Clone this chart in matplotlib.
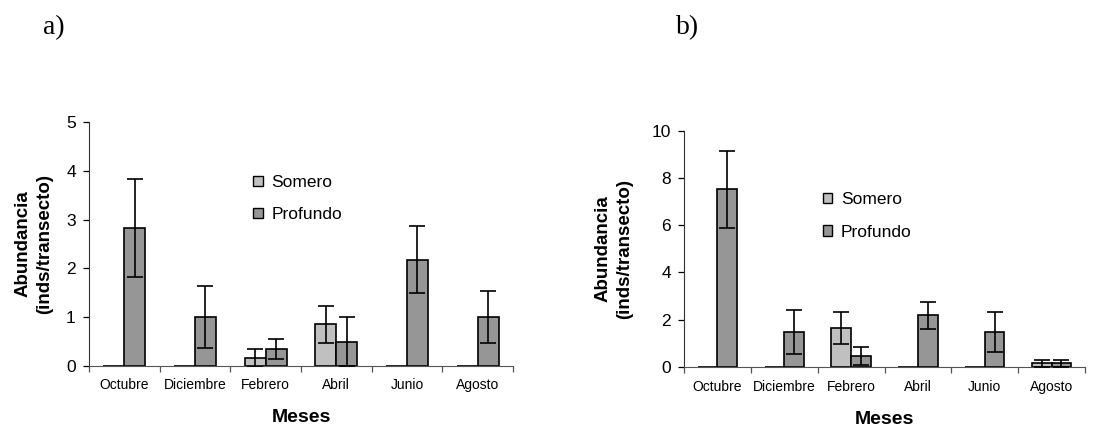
"""Abundancia por mes, somero vs profundo (paneles a y b)"""

import matplotlib
matplotlib.use("Agg")
import matplotlib.pyplot as plt
import numpy as np
from matplotlib.patches import Patch

meses = ["Octubre", "Diciembre", "Febrero", "Abril", "Junio", "Agosto"]

# panel a
somero_a = [0, 0, 0.16, 0.85, 0, 0]
somero_a_err = [0, 0, 0.19, 0.38, 0, 0]
profundo_a = [2.83, 1.0, 0.35, 0.5, 2.18, 1.0]
profundo_a_err = [1.0, 0.64, 0.2, 0.5, 0.68, 0.53]

# panel b
somero_b = [0, 0, 1.65, 0, 0, 0.16]
somero_b_err = [0, 0, 0.68, 0, 0, 0.15]
profundo_b = [7.52, 1.48, 0.47, 2.18, 1.48, 0.16]
profundo_b_err = [1.63, 0.94, 0.38, 0.57, 0.85, 0.15]

plt.rcParams["font.family"] = ["Liberation Sans", "DejaVu Sans"]

COLOR_SOMERO = "#c0c0c0"
COLOR_PROFUNDO = "#969696"
BAR_W = 0.295


def draw_panel(ax, somero, somero_err, profundo, profundo_err, ymax, ystep):
    """Dibuja las barras agrupadas con sus barras de error"""
    x = np.arange(len(meses)) + 0.5
    series = [(x - BAR_W / 2, somero, somero_err, COLOR_SOMERO),
              (x + BAR_W / 2, profundo, profundo_err, COLOR_PROFUNDO)]
    for pos, vals, err, color in series:
        vals = np.array(vals)
        err = np.array(err)
        ax.bar(pos, vals, width=BAR_W, color=color, edgecolor="black",
               linewidth=1.2, zorder=2)
        mask = err > 0
        ax.errorbar(pos[mask], vals[mask], yerr=err[mask], fmt="none",
                    ecolor="black", elinewidth=1.2, capsize=6, capthick=1.2,
                    zorder=3)

    ax.set_xlim(0, len(meses))
    ax.set_ylim(0, ymax)
    ax.set_yticks(np.arange(0, ymax + 0.01, ystep))
    ax.set_xticks(np.arange(len(meses) + 1))
    ax.set_xticklabels([])
    ax.set_xticks(x, minor=True)
    ax.set_xticklabels(meses, minor=True, fontsize=10)
    ax.tick_params(axis="x", which="major", direction="out", length=4,
                   width=0.9, color="#555555")
    ax.tick_params(axis="x", which="minor", length=0, pad=9)
    ax.tick_params(axis="y", direction="out", length=4.5, width=0.9,
                   labelsize=12.5, pad=5)
    ax.spines["top"].set_visible(False)
    ax.spines["right"].set_visible(False)
    ax.spines["left"].set_color("#333333")
    ax.spines["bottom"].set_color("#555555")

    ax.set_ylabel("Abundancia\n(inds/transecto)", fontsize=13.5,
                  fontweight="bold", va="center", linespacing=1.3)
    ax.set_xlabel("Meses", fontsize=14, fontweight="bold", va="center")


fig = plt.figure(figsize=(11.15, 4.3), dpi=100)

ax_a = fig.add_axes([89 / 1115, 0.149, 424 / 1115, 0.567])
draw_panel(ax_a, somero_a, somero_a_err, profundo_a, profundo_a_err, 5, 1)
ax_a.yaxis.set_label_coords(-0.13, 0.5)
ax_a.xaxis.set_label_coords(0.5, -0.213)

ax_b = fig.add_axes([684 / 1115, 0.1465, 401 / 1115, 0.55])
draw_panel(ax_b, somero_b, somero_b_err, profundo_b, profundo_b_err, 10, 2)
ax_b.yaxis.set_label_coords(-0.175, 0.5)
ax_b.xaxis.set_label_coords(0.5, -0.224)

handles = [Patch(facecolor=COLOR_SOMERO, edgecolor="black", linewidth=1.0),
           Patch(facecolor=COLOR_PROFUNDO, edgecolor="black", linewidth=1.0)]
for anchor in [(0.227, 0.593), (0.738, 0.553)]:
    fig.legend(handles, ["Somero", "Profundo"], loc="upper left",
               bbox_to_anchor=anchor, frameon=False, fontsize=12.5,
               handlelength=0.55, handleheight=0.55, handletextpad=0.5,
               labelspacing=1.0, borderpad=0, borderaxespad=0)

fig.text(43 / 1115, 1 - 28 / 430, "a)", fontsize=20, va="center",
         family=["Liberation Serif", "DejaVu Serif"])
fig.text(676 / 1115, 1 - 28 / 430, "b)", fontsize=20, va="center",
         family=["Liberation Serif", "DejaVu Serif"])

fig.savefig("out.png", dpi=100)
